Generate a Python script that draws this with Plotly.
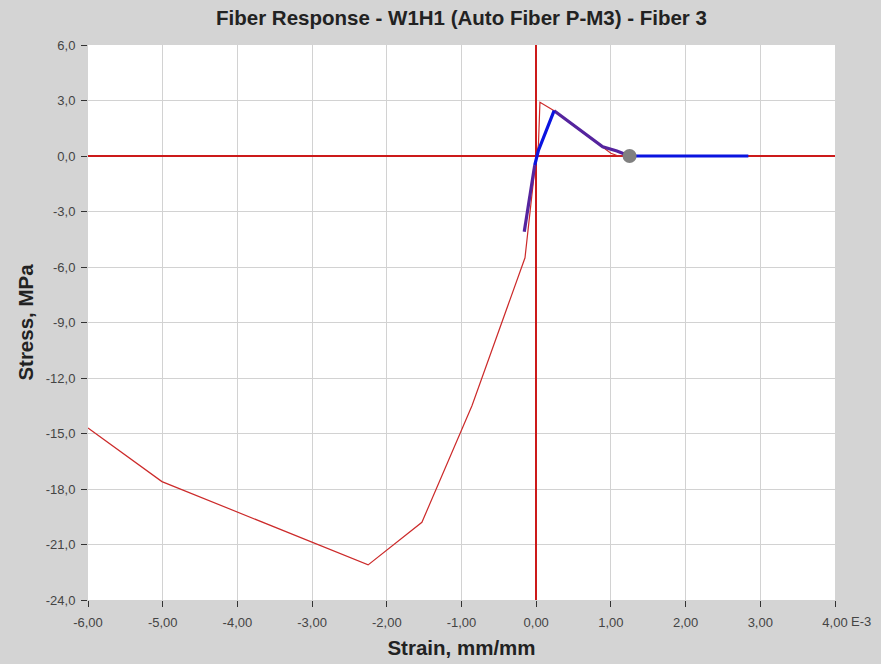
import plotly.graph_objects as go

# Envelope (red thin)
env_x = [-6.0, -5.01, -2.25, -1.53, -0.86, -0.15, 0.0, 0.03, 0.05, 0.24, 0.55, 0.89, 1.0, 1.1, 1.25]
env_y = [-14.7, -17.6, -22.1, -19.8, -13.5, -5.5, 0.0, 0.6, 2.9, 2.45, 1.5, 0.45, 0.15, 0.0, 0.0]

# History (purple) segments
hist1_x = [-0.16, -0.10, -0.02]
hist1_y = [-4.1, -2.5, -0.5]
hist2_x = [0.24, 0.55, 0.89, 1.08, 1.25]
hist2_y = [2.45, 1.5, 0.5, 0.27, 0.0]

# Current path (blue)
cur1_x = [-0.02, 0.03, 0.24]
cur1_y = [-0.5, 0.3, 2.45]
cur2_x = [1.25, 2.84]
cur2_y = [0.0, 0.0]

# Current state point
pt_x = [1.25]
pt_y = [0.0]

x_ticks = [-6, -5, -4, -3, -2, -1, 0, 1, 2, 3, 4]
x_labels = ["-6,00", "-5,00", "-4,00", "-3,00", "-2,00", "-1,00", "0,00", "1,00", "2,00", "3,00", "4,00"]
y_ticks = [6, 3, 0, -3, -6, -9, -12, -15, -18, -21, -24]
y_labels = ["6,0", "3,0", "0,0", "-3,0", "-6,0", "-9,0", "-12,0", "-15,0", "-18,0", "-21,0", "-24,0"]

fig = go.Figure()
fig.add_trace(go.Scatter(x=env_x, y=env_y, mode="lines",
                         line=dict(color="#cc2a2a", width=1.2), hoverinfo="skip"))
fig.add_trace(go.Scatter(x=hist1_x, y=hist1_y, mode="lines",
                         line=dict(color="#55249e", width=3.2), hoverinfo="skip"))
fig.add_trace(go.Scatter(x=hist2_x, y=hist2_y, mode="lines",
                         line=dict(color="#55249e", width=3.2), hoverinfo="skip"))
fig.add_trace(go.Scatter(x=cur1_x, y=cur1_y, mode="lines",
                         line=dict(color="#0a14e0", width=3.2), hoverinfo="skip"))
fig.add_trace(go.Scatter(x=cur2_x, y=cur2_y, mode="lines",
                         line=dict(color="#0a14e0", width=3.2), hoverinfo="skip"))
fig.add_trace(go.Scatter(x=pt_x, y=pt_y, mode="markers",
                         marker=dict(color="#808080", size=14), hoverinfo="skip"))

font_family = "Liberation Sans, Arial, sans-serif"
tick_font = dict(size=13, color="#444444", family=font_family)

fig.update_layout(
    width=881, height=664,
    margin=dict(l=88, r=46, t=45, b=64),
    paper_bgcolor="#d4d4d4", plot_bgcolor="white",
    showlegend=False,
    title=dict(text="<b>Fiber Response - W1H1 (Auto Fiber P-M3) - Fiber 3</b>",
               x=0.5, xref="paper", xanchor="center", y=0.973, yanchor="middle",
               font=dict(family=font_family, size=20.5, color="#222222")),
    font=dict(family=font_family),
)
fig.update_xaxes(range=[-6, 4], tickvals=x_ticks, ticktext=x_labels,
                 showgrid=True, gridcolor="#d2d2d2", gridwidth=1,
                 zeroline=True, zerolinecolor="#cc1a1a", zerolinewidth=1.5,
                 ticks="outside", ticklen=6, tickcolor="#333333", tickwidth=1,
                 tickfont=tick_font, ticklabelstandoff=4, automargin=False,
                 title=dict(text="<b>Strain, mm/mm</b>", standoff=12,
                            font=dict(size=20.5, color="#222222")),
                 showline=False, fixedrange=True)
fig.update_yaxes(range=[-24, 6], tickvals=y_ticks, ticktext=y_labels,
                 showgrid=True, gridcolor="#d2d2d2", gridwidth=1,
                 zeroline=True, zerolinecolor="#cc1a1a", zerolinewidth=1.5,
                 ticks="outside", ticklen=6, tickcolor="#333333", tickwidth=1,
                 tickfont=tick_font, ticklabelstandoff=3, automargin=False,
                 title=dict(text="<b>Stress, MPa</b>", standoff=6,
                            font=dict(size=20.5, color="#222222")),
                 showline=False, fixedrange=True)
fig.add_annotation(x=4, y=0, xref="x", yref="paper", text="E-3", showarrow=False,
                   xanchor="left", yanchor="top", xshift=14, yshift=-12,
                   font=tick_font)
fig.write_html("out.html", config={"displayModeBar": False},
               post_script="document.body.style.margin='0';")
